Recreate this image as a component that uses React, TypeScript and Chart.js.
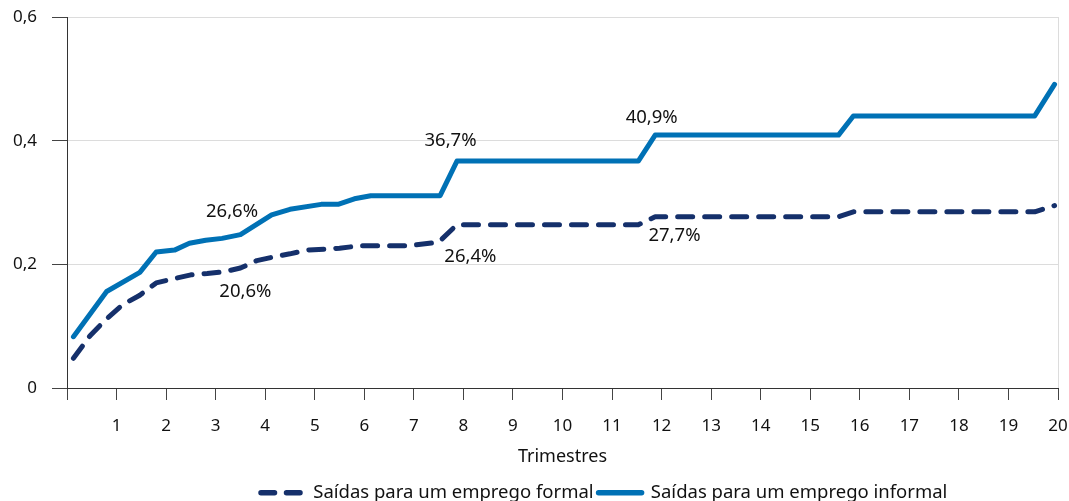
import React, { useEffect, useRef } from 'react';
import { Chart, registerables } from 'chart.js';

Chart.register(...registerables);

// Series (x in quarters, y as share)
const formalQuarter = [0.13, 0.47, 0.8, 1.13, 1.47, 1.8, 2.17, 2.5, 2.83, 3.17, 3.5, 3.83, 4.17, 4.5, 4.83, 5.5, 5.9, 6.9, 7.5, 7.87, 11.53, 11.87, 15.57, 15.87, 19.53, 19.93];
const formalRate = [0.048, 0.085, 0.112, 0.135, 0.15, 0.17, 0.177, 0.183, 0.185, 0.188, 0.194, 0.206, 0.212, 0.217, 0.223, 0.226, 0.23, 0.23, 0.236, 0.264, 0.264, 0.277, 0.277, 0.285, 0.285, 0.295];

const informalQuarter = [0.13, 0.8, 1.47, 1.8, 2.17, 2.47, 2.8, 3.13, 3.5, 4.13, 4.5, 5.13, 5.47, 5.8, 6.13, 7.53, 7.87, 11.53, 11.87, 15.57, 15.87, 19.53, 19.93];
const informalRate = [0.083, 0.156, 0.187, 0.22, 0.223, 0.234, 0.239, 0.242, 0.248, 0.28, 0.289, 0.297, 0.297, 0.306, 0.311, 0.311, 0.367, 0.367, 0.409, 0.409, 0.44, 0.44, 0.491];

const seriesNames = ['Saídas para um emprego formal', 'Saídas para um emprego informal'];
const xTitle = 'Trimestres';

// Value labels in the plot (text, quarter, value where text sits)
const annotationText = ['26,6%', '20,6%', '36,7%', '26,4%', '40,9%', '27,7%'];
const annotationQuarter = [3.33, 3.6, 7.74, 8.14, 11.8, 12.26];
const annotationRate = [0.285, 0.155, 0.4, 0.212, 0.437, 0.246];

const FONT = '"Noto Sans", sans-serif';
const FORMAL_COLOR = '#15306b';
const INFORMAL_COLOR = '#0071b5';

const annotationPlugin = {
  id: 'valueLabels',
  afterDatasetsDraw(chart: any) {
    const { ctx, scales } = chart;
    ctx.save();
    ctx.font = `18.5px ${FONT}`;
    ctx.fillStyle = '#111';
    ctx.textAlign = 'center';
    ctx.textBaseline = 'middle';
    annotationText.forEach((t, i) => {
      ctx.fillText(t, scales.x.getPixelForValue(annotationQuarter[i]), scales.y.getPixelForValue(annotationRate[i]));
    });
    ctx.restore();
  },
};

const legendPlacePlugin = {
  id: 'legendPlace',
  afterLayout(chart: any) {
    const lg = chart.legend;
    if (!lg || !lg.lineWidths) return;
    const pad = lg.options.labels.padding;
    const curX = (lg.left + pad + lg.right - lg.lineWidths[0]) / 2;
    const dx = 261 - curX;
    lg.left += dx;
    lg.right += dx;
    lg.top += 11;
    lg.bottom += 11;
  },
};

export default function App() {
  const ref = useRef<HTMLCanvasElement | null>(null);
  useEffect(() => {
    if (!ref.current) return;
    Chart.defaults.font.family = FONT;
    const baseGen = Chart.defaults.plugins.legend.labels.generateLabels;
    const chart = new Chart(ref.current, {
      type: 'line',
      data: {
        datasets: [
          {
            label: seriesNames[0],
            data: formalQuarter.map((q, i) => ({ x: q, y: formalRate[i] })),
            borderColor: FORMAL_COLOR,
            backgroundColor: FORMAL_COLOR,
            borderWidth: 5,
            borderDash: [15, 12],
            borderCapStyle: 'round',
            borderJoinStyle: 'round',
            pointRadius: 0,
            pointStyle: 'line',
            tension: 0,
          },
          {
            label: seriesNames[1],
            data: informalQuarter.map((q, i) => ({ x: q, y: informalRate[i] })),
            borderColor: INFORMAL_COLOR,
            backgroundColor: INFORMAL_COLOR,
            borderWidth: 5,
            borderCapStyle: 'round',
            borderJoinStyle: 'round',
            pointRadius: 0,
            pointStyle: 'line',
            tension: 0,
          },
        ],
      },
      options: {
        animation: false,
        responsive: false,
        maintainAspectRatio: false,
        layout: { padding: { left: 0, right: 11, top: 17, bottom: 0 } },
        plugins: {
          tooltip: { enabled: false },
          legend: {
            position: 'bottom',
            labels: {
              usePointStyle: true,
              pointStyleWidth: 43,
              padding: 5,
              color: '#111',
              font: { size: 18.5, family: FONT },
              generateLabels: (c: any) =>
                baseGen(c).map((item: any) => {
                  const ds = c.data.datasets[item.datasetIndex];
                  return {
                    ...item,
                    lineDash: ds.borderDash ? [13.5, 12] : [],
                    lineCap: 'round',
                    lineWidth: 5.5,
                    strokeStyle: ds.borderColor,
                    pointStyle: 'line',
                  };
                }),
            },
          },
        },
        scales: {
          x: {
            type: 'linear',
            min: 0,
            max: 20,
            afterFit: (s: any) => {
              s.height = 79.5;
              s.paddingLeft = 0;
              s.paddingRight = 0;
            },
            ticks: {
              stepSize: 1,
              autoSkip: false,
              maxRotation: 0,
              padding: 16,
              color: '#111',
              font: { size: 17, family: FONT },
              callback: (v: any) => (v === 0 ? '' : String(v)),
            },
            grid: {
              drawOnChartArea: true,
              color: (c: any) => (c.tick && c.tick.value === 20 ? '#dcdcdc' : 'rgba(0,0,0,0)'),
              tickColor: '#444',
              tickLength: 12,
              lineWidth: 1,
            },
            border: { color: '#333', width: 1 },
            title: {
              display: true,
              text: xTitle,
              color: '#111',
              font: { size: 18, family: FONT },
              padding: { top: 0, bottom: 0 },
            },
          },
          y: {
            min: 0,
            max: 0.6,
            afterFit: (s: any) => {
              s.width = 67;
              s.paddingTop = 0;
              s.paddingBottom = 0;
            },
            ticks: {
              stepSize: 0.2,
              padding: 15,
              color: '#111',
              font: { size: 17, family: FONT },
              callback: (v: any) => (v === 0 ? '0' : Number(v).toFixed(1).replace('.', ',')),
            },
            grid: {
              color: '#dcdcdc',
              tickColor: '#444',
              tickLength: 15,
              lineWidth: 1,
            },
            border: { color: '#333', width: 1 },
          },
        },
      },
      plugins: [annotationPlugin, legendPlacePlugin],
    } as any);
    return () => chart.destroy();
  }, []);

  return (
    <div style={{ position: 'fixed', left: 0, top: 0, width: 1069, height: 501, background: '#fff' }}>
      <canvas ref={ref} width={1069} height={501} style={{ width: 1069, height: 501, display: 'block' }} />
    </div>
  );
}
